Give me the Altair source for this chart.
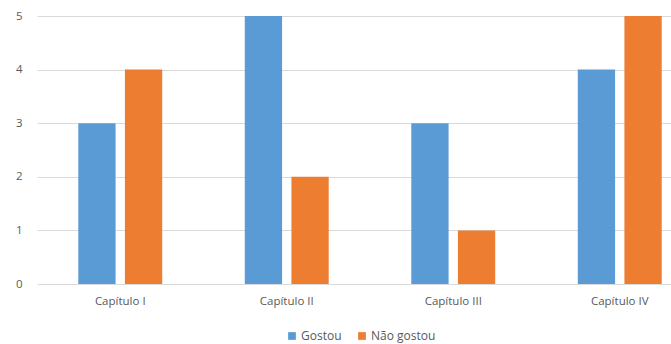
import altair as alt
import pandas as pd

categories = ["Capítulo I", "Capítulo II", "Capítulo III", "Capítulo IV"]
series = ["Gostou", "Não gostou"]
gostou = [3, 5, 3, 4]
nao_gostou = [4, 2, 1, 5]
colors = ["#5B9BD5", "#ED7D31"]

rows = []
for c, g, n in zip(categories, gostou, nao_gostou):
    rows.append({"cat": c, "serie": "Gostou", "valor": g})
    rows.append({"cat": c, "serie": "Não gostou", "valor": n})
df = pd.DataFrame(rows)

font = "Open Sans"
chart = alt.Chart(df).mark_bar().encode(
    x=alt.X("cat:N", sort=categories, title=None,
            scale=alt.Scale(range=[2, 668], paddingInner=0.496, paddingOuter=0.248),
            axis=alt.Axis(labelAngle=0, domain=False, ticks=False, grid=False, labelPadding=11,
                          labelFont=font, labelFontSize=11.5, labelColor="#595959")),
    xOffset=alt.XOffset("serie:N", sort=series,
                        scale=alt.Scale(paddingInner=0.2, paddingOuter=0)),
    y=alt.Y("valor:Q", title=None,
            scale=alt.Scale(domain=[0, 5], nice=False),
            axis=alt.Axis(values=[0, 1, 2, 3, 4, 5], domain=False, ticks=False,
                          labelPadding=13, gridColor="#D9D9D9", gridWidth=1,
                          labelFont=font, labelFontSize=11.5, labelColor="#595959")),
    color=alt.Color("serie:N", sort=series, title=None,
                    scale=alt.Scale(domain=series, range=colors),
                    legend=alt.Legend(orient="none", direction="horizontal",
                                      legendX=251, legendY=314,
                                      symbolType="square", symbolSize=60,
                                      symbolStrokeWidth=0, columnPadding=14,
                                      labelFont=font, labelFontSize=12,
                                      labelColor="#595959", labelOffset=3)),
).properties(
    width=636, height=268,
    background="white",
    autosize=alt.AutoSizeParams(type="none"),
    padding={"left": 35, "top": 16, "right": 0, "bottom": 60},
).configure_view(stroke=None)

chart.save("out.html", embed_options={"renderer": "svg", "actions": False})
